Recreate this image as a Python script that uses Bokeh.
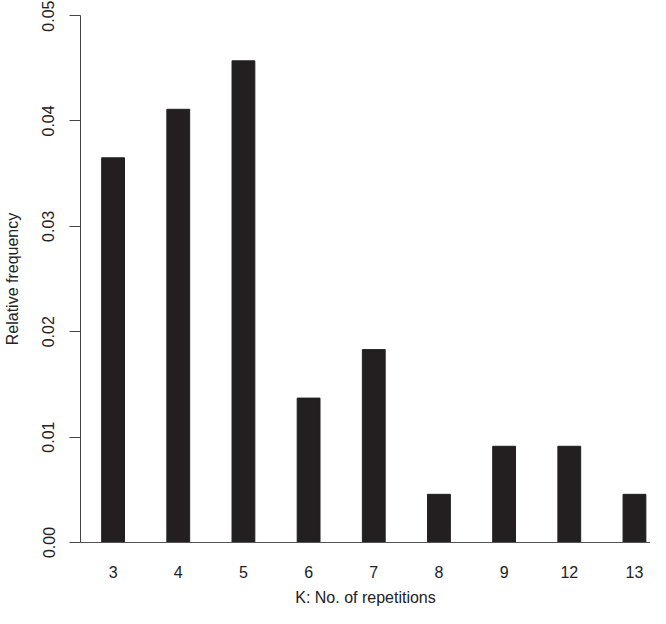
from bokeh.plotting import figure
from bokeh.models import Range1d, FixedTicker, ColumnDataSource
from bokeh.embed import file_html
from bokeh.resources import INLINE

categories = ["3", "4", "5", "6", "7", "8", "9", "12", "13"]
rel_freq = [0.0365, 0.0411, 0.0457, 0.0137, 0.0183, 0.00457, 0.00913, 0.00913, 0.00457]
y_ticks = [0.00, 0.01, 0.02, 0.03, 0.04, 0.05]
y_tick_labels = ["0.00", "0.01", "0.02", "0.03", "0.04", "0.05"]

xpos = [i + 0.5 for i in range(len(categories))]
src = ColumnDataSource(dict(x=xpos, top=rel_freq, cat=categories))

FONT = "Liberation Sans"
W, H = 650, 608
p = figure(width=W, height=H, output_backend="svg", toolbar_location=None,
           x_range=Range1d(0, 8.746), y_range=Range1d(0, 0.05),
           min_border_left=78, min_border_right=0, min_border_top=15, min_border_bottom=65)

p.vbar(x="x", top="top", bottom=0, width=0.35, source=src,
       fill_color="#231f20", line_color="#231f20", line_width=1)

p.xgrid.visible = False
p.ygrid.visible = False
p.outline_line_color = None
p.background_fill_color = "white"
p.border_fill_color = "white"

# x axis
xa = p.xaxis[0]
xa.ticker = FixedTicker(ticks=xpos)
xa.major_label_overrides = {x: c for x, c in zip(xpos, categories)}
xa.major_tick_line_color = None
xa.major_tick_out = 0
xa.major_tick_in = 0
xa.minor_tick_line_color = None
xa.axis_line_color = "#555555"
xa.axis_line_width = 1
xa.major_label_standoff = 23
xa.major_label_text_font = FONT
xa.major_label_text_font_size = "16px"
xa.major_label_text_color = "#222222"
xa.axis_label = "K: No. of repetitions"
xa.axis_label_text_font = FONT
xa.axis_label_text_font_size = "16px"
xa.axis_label_text_font_style = "normal"
xa.axis_label_text_color = "#222222"
xa.axis_label_standoff = 8

# y axis
ya = p.yaxis[0]
ya.ticker = FixedTicker(ticks=y_ticks)
ya.major_label_overrides = {t: l for t, l in zip(y_ticks, y_tick_labels)}
ya.major_label_orientation = "vertical"
ya.major_tick_out = 11
ya.major_tick_in = 0
ya.major_tick_line_color = "#444444"
ya.minor_tick_line_color = None
ya.axis_line_color = "#444444"
ya.axis_line_width = 1
ya.major_label_standoff = 15
ya.major_label_text_font = FONT
ya.major_label_text_font_size = "16px"
ya.major_label_text_color = "#222222"
ya.axis_label = "Relative frequency"
ya.axis_label_text_font = FONT
ya.axis_label_text_font_size = "16px"
ya.axis_label_text_font_style = "normal"
ya.axis_label_text_color = "#222222"
ya.axis_label_standoff = 19

open("out.html", "w").write(file_html(p, INLINE))
